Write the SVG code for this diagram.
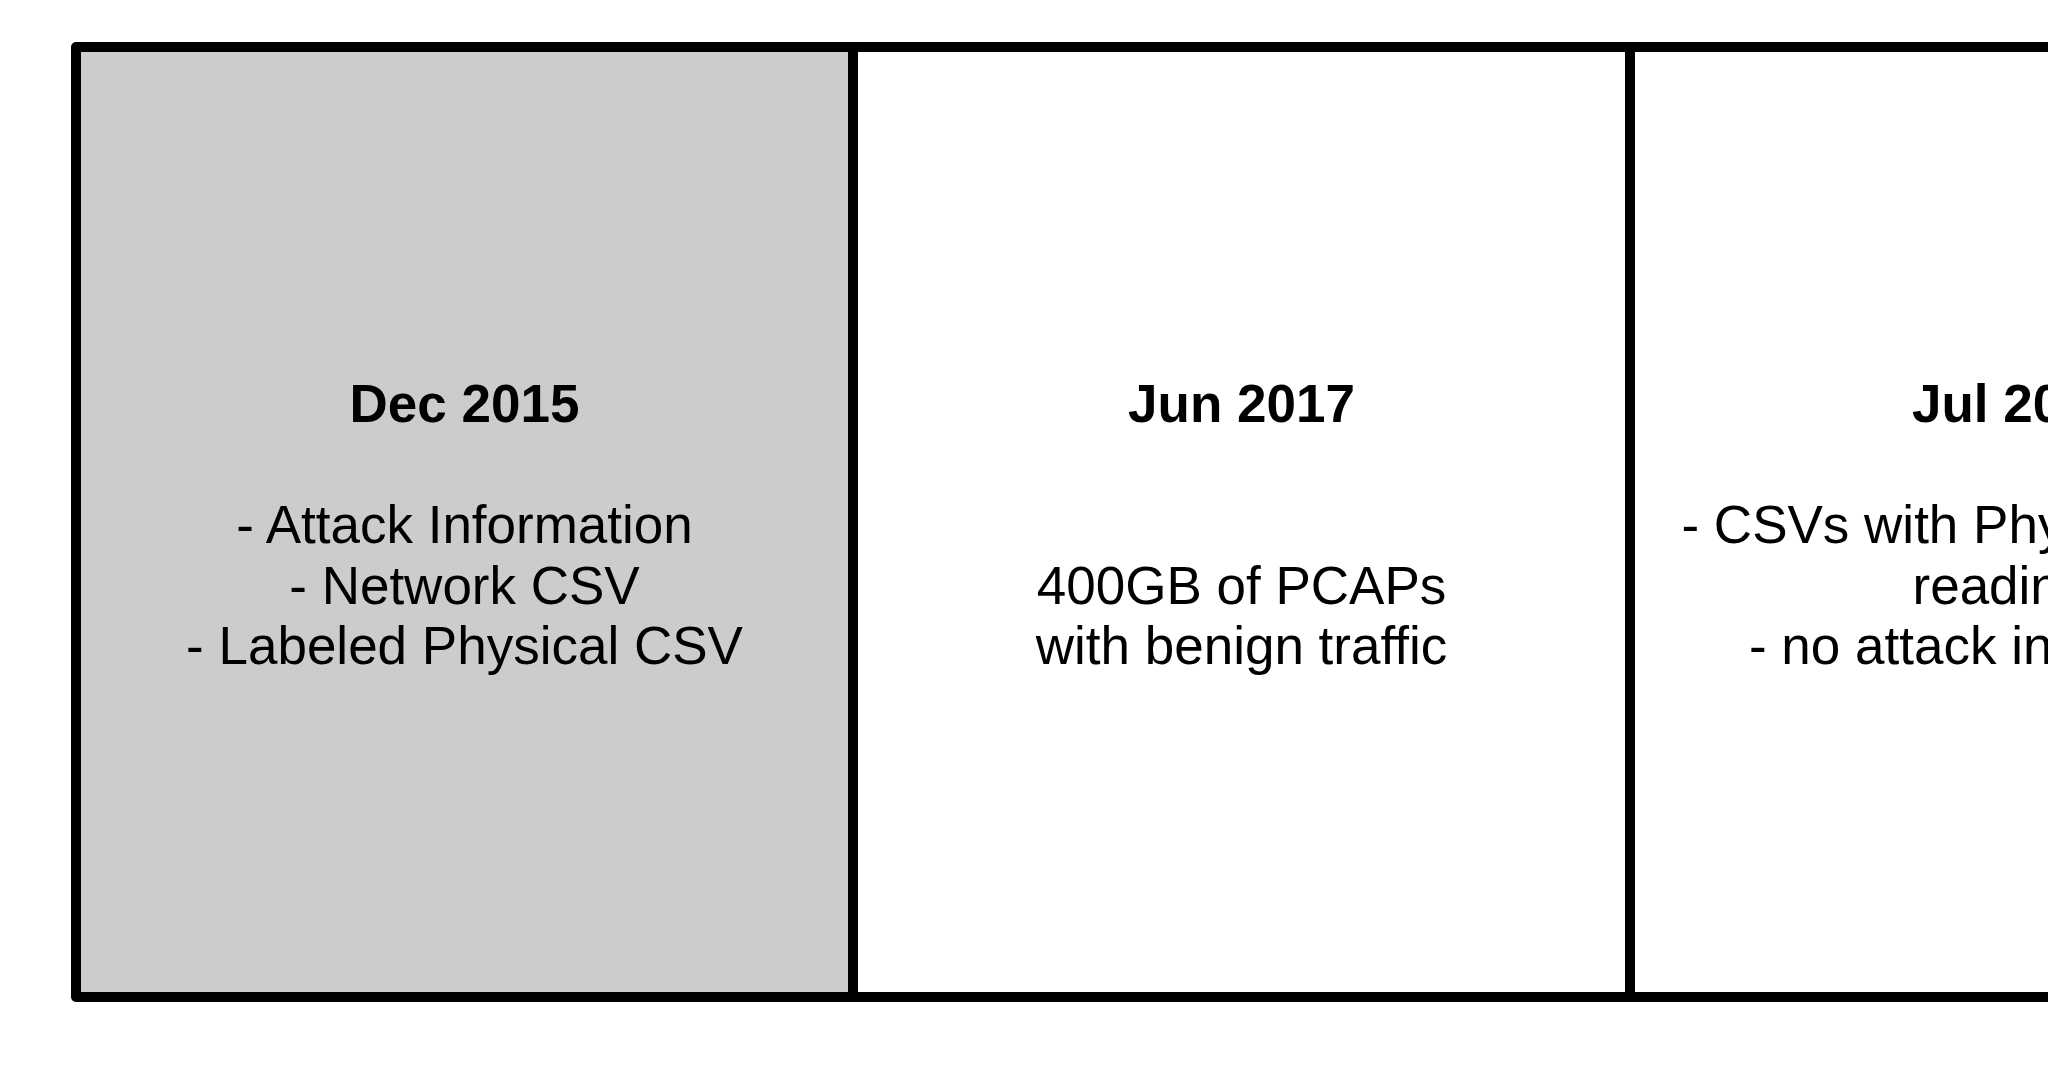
<svg xmlns="http://www.w3.org/2000/svg" width="2048" height="1074" viewBox="0 0 2048 1074">
  <style>
    .box { stroke: #000000; stroke-width: 10; stroke-linejoin: round; }
    .t { font-family: "Liberation Sans", Arial, Helvetica, sans-serif; font-size: 53px; fill: #000000; }
    .c { text-anchor: middle; }
    .s { text-anchor: start; }
    .b { font-weight: bold; }
  </style>
  <rect x="0" y="0" width="2048" height="1074" fill="#ffffff"/>
  <g id="node-dec-2015">
    <rect class="box" x="76" y="47" width="777" height="950" fill="#cccccc"/>
    <text class="t c b" x="464.5" y="422">Dec 2015</text>
    <text class="t c" x="464.5" y="543">- Attack Information</text>
    <text class="t c" x="464.5" y="603.5">- Network CSV</text>
    <text class="t c" x="464.5" y="664">- Labeled Physical CSV</text>
  </g>
  <g id="node-jun-2017">
    <rect class="box" x="853" y="47" width="777" height="950" fill="#ffffff"/>
    <text class="t c b" x="1241.5" y="422">Jun 2017</text>
    <text class="t c" x="1241.5" y="603.5">400GB of PCAPs</text>
    <text class="t c" x="1241.5" y="664">with benign traffic</text>
  </g>
  <g id="node-jul-20">
    <rect class="box" x="1630" y="47" width="777" height="950" fill="#ffffff"/>
    <text class="t s b" x="1912" y="422">Jul 20</text>
    <text class="t s" x="1681.5" y="543">- CSVs with Phy</text>
    <text class="t s" x="1912.5" y="603.5">readin</text>
    <text class="t s" x="1749" y="664">- no attack in</text>
  </g>
  <g id="connectors"></g>
</svg>
